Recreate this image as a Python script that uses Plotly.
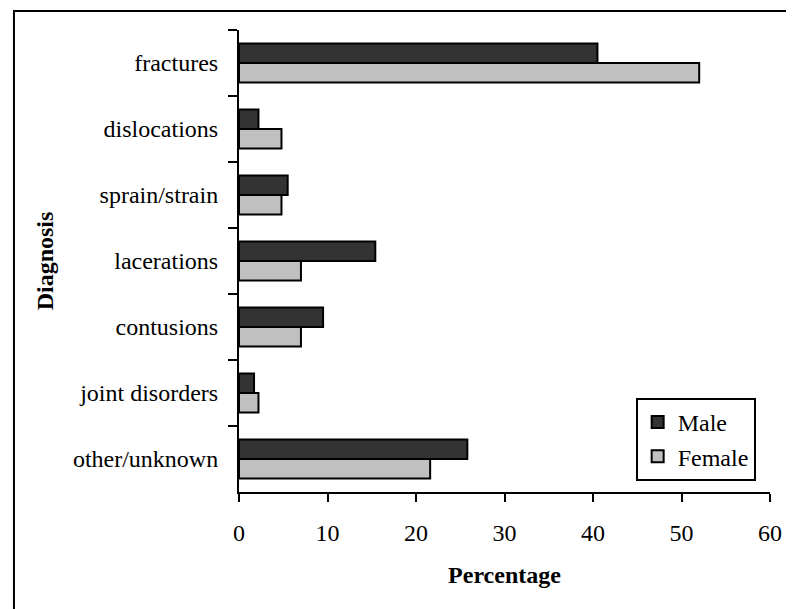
import plotly.graph_objects as go

# %%
diagnosis = [
    "fractures",
    "dislocations",
    "sprain/strain",
    "lacerations",
    "contusions",
    "joint disorders",
    "other/unknown",
]
male_pct = [40.5, 2.2, 5.5, 15.4, 9.5, 1.7, 25.8]
female_pct = [52.0, 4.8, 4.8, 7.0, 7.0, 2.2, 21.6]
x_ticks = [0, 10, 20, 30, 40, 50, 60]

FONT = "Liberation Serif"
BLACK_FONT = dict(family=FONT, size=24, color="black")

fig = go.Figure()
fig.add_trace(
    go.Bar(
        y=diagnosis,
        x=male_pct,
        name="Male",
        orientation="h",
        marker=dict(color="#333333", line=dict(color="black", width=2)),
    )
)
fig.add_trace(
    go.Bar(
        y=diagnosis,
        x=female_pct,
        name="Female",
        orientation="h",
        marker=dict(color="#c0c0c0", line=dict(color="black", width=2)),
    )
)

fig.update_xaxes(
    range=[0, 60],
    tickvals=x_ticks,
    ticks="outside",
    ticklen=8,
    tickwidth=2,
    tickcolor="black",
    ticklabelstandoff=10,
    showline=True,
    linecolor="black",
    linewidth=2,
    showgrid=False,
    zeroline=False,
    tickfont=BLACK_FONT,
    title=dict(text="<b>Percentage</b>", font=BLACK_FONT, standoff=21),
)
fig.update_yaxes(
    autorange="reversed",
    tickson="boundaries",
    ticks="outside",
    ticklen=9,
    tickwidth=2,
    tickcolor="black",
    ticklabelstandoff=14,
    showline=True,
    linecolor="black",
    linewidth=2,
    showgrid=False,
    tickfont=BLACK_FONT,
    title=dict(text="<b>Diagnosis</b>", font=BLACK_FONT, standoff=12),
)

# outer frame of the chart, cut at the right and bottom edges
fig.add_shape(
    type="rect",
    xref="paper",
    yref="paper",
    x0=-0.4238,
    x1=1.2,
    y0=-0.6,
    y1=1.0411,
    line=dict(color="black", width=2),
    fillcolor="rgba(0,0,0,0)",
    layer="below",
)

# the page body has an 8px margin, so the figure is 8px smaller
fig.update_layout(
    width=786,
    height=601,
    barmode="group",
    bargap=0.41,
    bargroupgap=0,
    plot_bgcolor="white",
    paper_bgcolor="white",
    font=BLACK_FONT,
    showlegend=True,
    legend=dict(
        x=0.747,
        y=0.2035,
        xanchor="left",
        yanchor="top",
        bgcolor="white",
        bordercolor="black",
        borderwidth=2,
        font=BLACK_FONT,
        traceorder="normal",
        itemwidth=30,
    ),
    margin=dict(l=231, r=17, t=22, b=117),
)

fig.write_html("out.html")
